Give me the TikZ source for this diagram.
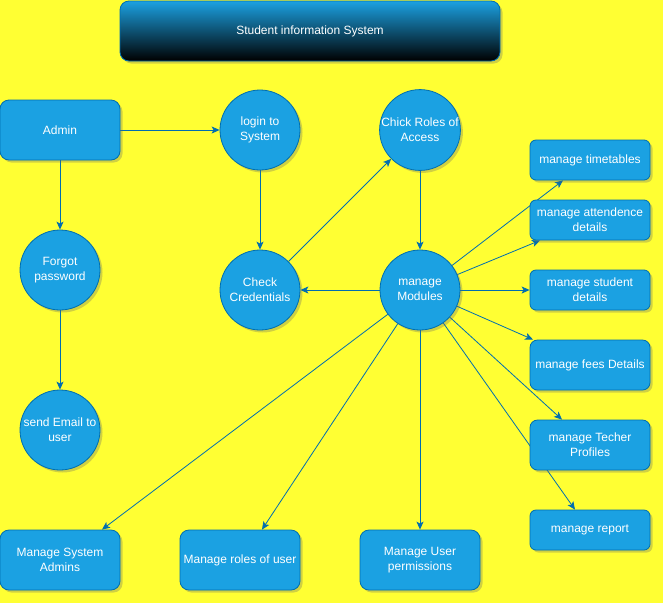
\documentclass[tikz,border=0pt]{standalone}
\usepackage{fontspec}
\setmainfont{Liberation Sans}
\usetikzlibrary{arrows.meta,shadows,calc}
\definecolor{bgyellow}{HTML}{FFFF33}
\definecolor{nodeblue}{HTML}{1BA1E2}
\definecolor{edgeblue}{HTML}{006EAF}
\pgfdeclarelayer{bg}
\pgfdeclarelayer{edges}
\pgfsetlayers{bg,edges,main}
\tikzset{
  shade1/.style={drop shadow={shadow xshift=2.5pt,shadow yshift=-2.5pt,opacity=0.3,fill=black!60}},
  box/.style={draw=edgeblue, fill=nodeblue, text=white, rounded corners=9pt,
    minimum width=120pt, minimum height=60pt, inner sep=1pt, align=center,
    font=\fontsize{12}{15}\selectfont, line width=0.8pt, shade1},
  smallbox/.style={box, rounded corners=6pt, minimum height=40pt},
  midbox/.style={box, rounded corners=7.5pt, minimum height=50pt},
  circ/.style={circle, draw=edgeblue, fill=nodeblue, text=white, minimum size=80pt,
    inner sep=0pt, align=center, font=\fontsize{12}{15}\selectfont, line width=0.8pt, shade1},
  titlebox/.style={draw=edgeblue, top color=nodeblue, bottom color=black, text=white,
    rounded corners=9pt, minimum width=380pt, minimum height=60pt,
    font=\fontsize{12}{15}\selectfont, line width=0.8pt, shade1},
  arr/.style={draw=edgeblue, line width=0.8pt, -{Stealth[length=8pt,width=7pt,inset=2pt]}}
}
\begin{document}
\begin{tikzpicture}[x=1pt,y=-1pt]
\begin{pgfonlayer}{bg}
  \fill[bgyellow] (0,0) rectangle (663,603);
\end{pgfonlayer}
\useasboundingbox (0,0) rectangle (663,603);

\node[titlebox] (title) at (310,31) {Student information System};

\node[box] (admin) at (60,130) {Admin};
\node[circ] (login) at (260,130) {login to\\System};
\node[circ] (roles) at (420,130) {Chick Roles of\\Access};
\node[circ] (forgot) at (60,270) {Forgot\\password};
\node[circ] (check) at (260,290) {Check\\Credentials};
\node[circ] (mm) at (420,290) {manage\\Modules};
\node[circ] (email) at (60,430) {send Email to\\user};

\node[smallbox] (tt) at (590,160) {manage timetables};
\node[smallbox] (at) at (590,220) {manage attendence\\details};
\node[smallbox] (sd) at (590,290) {manage student\\details};
\node[midbox] (fe) at (590,365) {manage fees Details};
\node[midbox] (tp) at (590,445) {manage Techer\\Profiles};
\node[smallbox] (rp) at (590,530) {manage report};

\node[box] (sa) at (60,560) {Manage System\\Admins};
\node[box] (ru) at (240,560) {Manage roles of user};
\node[box] (up) at (420,560) {Manage User\\permissions};

\coordinate (aTT) at ([xshift=-27pt]tt.south);
\coordinate (aAT) at ([xshift=-50pt]at.south);
\coordinate (aFE) at ([xshift=-57pt]fe.north);
\coordinate (aTP) at ([xshift=-28pt]tp.north);
\coordinate (aRP) at ([xshift=-15pt]rp.north);
\coordinate (aSA) at ([xshift=42pt]sa.north);
\coordinate (aRU) at ([xshift=22pt]ru.north);

\begin{pgfonlayer}{edges}
  \draw[arr] (admin) -- (login);
  \draw[arr] (admin) -- (forgot);
  \draw[arr] (forgot) -- (email);
  \draw[arr] (login) -- (check);
  \draw[arr] (check) -- (roles);
  \draw[arr] (roles) -- (mm);
  \draw[arr] (mm) -- (check);
  \draw[arr] (mm) -- (aTT);
  \draw[arr] (mm) -- (aAT);
  \draw[arr] (mm) -- (sd);
  \draw[arr] (mm) -- (aFE);
  \draw[arr] (mm) -- (aTP);
  \draw[arr] (mm) -- (aRP);
  \draw[arr] (mm) -- (aSA);
  \draw[arr] (mm) -- (aRU);
  \draw[arr] (mm) -- (up);
\end{pgfonlayer}
\end{tikzpicture}
\end{document}
